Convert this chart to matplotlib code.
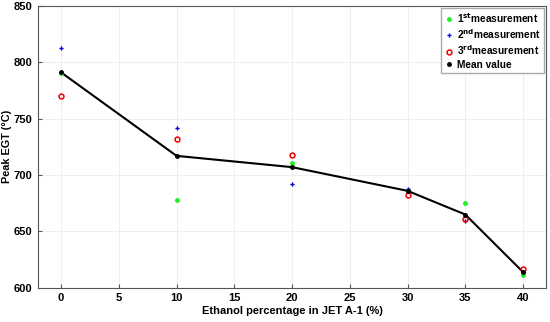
import matplotlib
matplotlib.use('Agg')
import matplotlib.pyplot as plt

plt.rcParams['font.family'] = ['Liberation Sans', 'DejaVu Sans']
plt.rcParams['font.weight'] = 'bold'

ethanol = [0, 10, 20, 30, 35, 40]
meas1 = [790, 678, 711, 687, 675, 611]
meas2 = [813, 742, 692, 688, 659, 614]
meas3 = [770, 732, 718, 682, 661, 617]
mean_val = [791, 717, 707, 686, 665, 614]

fig = plt.figure(figsize=(5.5, 3.22), dpi=100)
ax = fig.add_axes([0.069, 0.106, 0.924, 0.876])

ax.plot(ethanol, mean_val, color='black', lw=1.5, zorder=2)
ax.plot(ethanol, meas1, ls='none', marker='o', ms=2.5, color='#22ee22', label='1$^{\\mathbf{st}}$measurement', zorder=3)
ax.plot(ethanol, meas2, ls='none', marker='P', ms=3, color='#0000dd', mew=0, label='2$^{\\mathbf{nd}}$measurement', zorder=3)
ax.plot(ethanol, meas3, ls='none', marker='o', ms=3.5, mfc='none', mec='#ee0000', mew=1.1, label='3$^{\\mathbf{rd}}$measurement', zorder=4)
ax.plot(ethanol, mean_val, ls='none', marker='o', ms=2.5, color='black', label='Mean value', zorder=5)

ax.set_xlim(-2, 42)
ax.set_ylim(600, 850)
ax.set_xticks([0, 5, 10, 15, 20, 25, 30, 35, 40])
ax.set_yticks([600, 650, 700, 750, 800, 850])
ax.grid(True, color='#eeeeee', lw=0.7)
ax.tick_params(direction='in', labelsize=8, length=3, color='#555555', pad=4)
for s in ax.spines.values():
    s.set_color('#555555')
    s.set_linewidth(0.8)

ax.set_xlabel('Ethanol percentage in JET A-1 (%)', fontsize=8, fontweight='bold', labelpad=2)
ax.set_ylabel('Peak EGT (°C)', fontsize=7.8, fontweight='bold')
ax.yaxis.set_label_coords(-0.052, 0.5)

leg = ax.legend(loc='upper right', handletextpad=0.3, handlelength=1.0,
                borderpad=0.3, labelspacing=0.25, fancybox=False, framealpha=1,
                edgecolor='#aaaaaa', borderaxespad=0.2,
                prop={'weight': 'bold', 'size': 7.3})

fig.savefig('out.png', dpi=100)
